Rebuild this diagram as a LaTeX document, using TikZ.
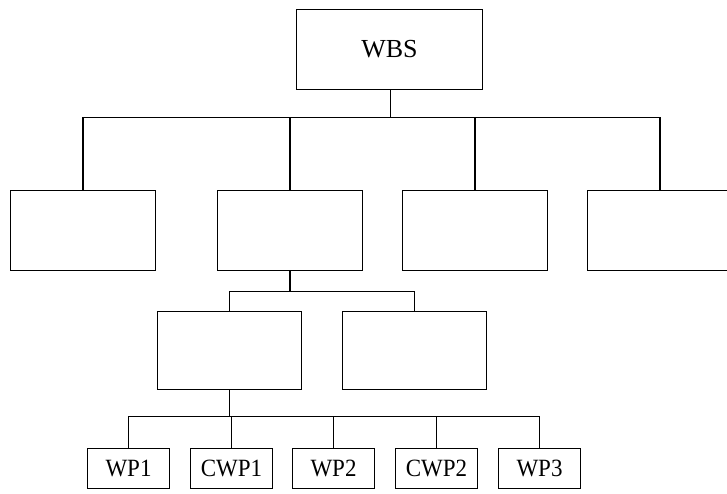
\documentclass[tikz,border=0pt]{standalone}
\usepackage{fontspec}
\setmainfont{Liberation Serif}
\begin{document}
\begin{tikzpicture}[x=1pt,y=-1pt,
  box/.style={draw,line width=1.1pt,inner sep=0pt,fill=white},
  topbox/.style={box,minimum width=186pt,minimum height=80pt,font=\fontsize{26}{28}\selectfont},
  midbox/.style={box,minimum width=145pt,minimum height=80pt},
  subbox/.style={box,minimum width=144pt,minimum height=78pt},
  leaf/.style={box,minimum width=82pt,minimum height=40pt,font=\fontsize{23}{25}\selectfont},
  link/.style={line width=1.1pt}]
  \useasboundingbox (0,0) rectangle (727,494);

  % top of the breakdown
  \node[topbox] (wbs) at (389.5,49.5) {WBS};

  % second level
  \node[midbox] (c1) at (83,230.5) {};
  \node[midbox] (c2) at (290,230.5) {};
  \node[midbox] (c3) at (475,230.5) {};
  \node[midbox] (c4) at (660,230.5) {};

  % third level under the second element
  \node[subbox] (d1) at (229.5,350.5) {};
  \node[subbox] (d2) at (414.5,350.5) {};

  % work packages
  \node[leaf] (wp1)  at (128.5,468.5) {\scalebox{1}[1.08]{WP1}};
  \node[leaf] (cwp1) at (231.5,468.5) {\scalebox{1}[1.08]{CWP1}};
  \node[leaf] (wp2)  at (333.5,468.5) {\scalebox{1}[1.08]{WP2}};
  \node[leaf] (cwp2) at (436.5,468.5) {\scalebox{1}[1.08]{CWP2}};
  \node[leaf] (wp3)  at (539.5,468.5) {\scalebox{1}[1.08]{WP3}};

  % bus junctions
  \coordinate (b1) at (390.5,117.5);
  \coordinate (b2) at (290,291.5);
  \coordinate (b3) at (229.5,416.5);

  \draw[link] (wbs.south -| b1) -- (b1);
  \foreach \n in {c1,c2,c3,c4} \draw[link] (b1) -| (\n.north);

  \draw[link] (c2.south) -- (b2);
  \foreach \n in {d1,d2} \draw[link] (b2) -| (\n.north);

  \draw[link] (d1.south) -- (b3);
  \foreach \n in {wp1,cwp1,wp2,cwp2,wp3} \draw[link] (b3) -| (\n.north);
\end{tikzpicture}
\end{document}
